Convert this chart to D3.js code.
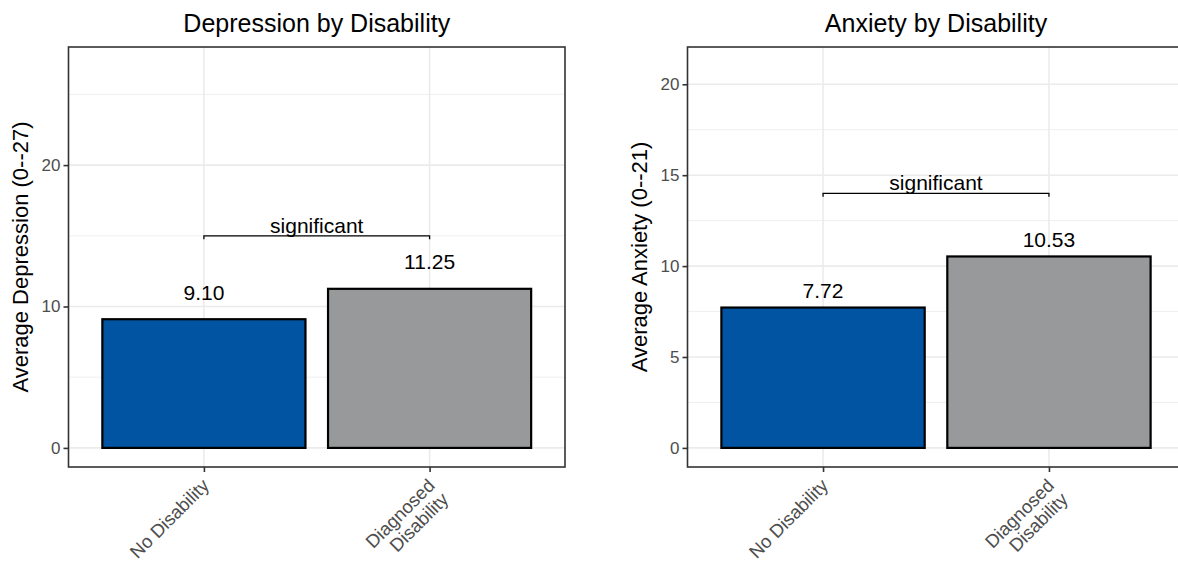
<!DOCTYPE html>
<html>
<head>
<meta charset="utf-8">
<script src="https://cdn.jsdelivr.net/npm/d3@7"></script>
<style>
  html, body { margin: 0; padding: 0; background: #fff; }
  svg { display: block; font-family: "Liberation Sans", Arial, sans-serif; }
</style>
</head>
<body>
<svg id="chart" width="1178" height="561"></svg>
<script>
// ---------- data ----------
const categories = ["No Disability", "Diagnosed\nDisability"];
const depressionValues = [9.10, 11.25];
const anxietyValues = [7.72, 10.53];
const depressionLimits = [0, 27];
const anxietyLimits = [0, 21];
const depressionTicks = [0, 10, 20];
const depressionMinorTicks = [5, 15, 25];
const anxietyTicks = [0, 5, 10, 15, 20];
const anxietyMinorTicks = [2.5, 7.5, 12.5, 17.5];
const depressionSignif = 15;
const anxietySignif = 14;
const signifLabel = "significant";
const titles = ["Depression by Disability", "Anxiety by Disability"];
const yTitles = ["Average Depression (0--27)", "Average Anxiety (0--21)"];

// ---------- style ----------
const barColors = ["#0054a2", "#98999b"];
const svg = d3.select("#chart");
const panelTop = 47, panelBottom = 467;

const panels = [
  { x0: 68.5, x1: 565, values: depressionValues, limits: depressionLimits,
    ticks: depressionTicks, minor: depressionMinorTicks, signif: depressionSignif,
    title: titles[0], yTitle: yTitles[0], yTitleX: 28, labelOffset: 19.5, fmt: d3.format(".2f") },
  { x0: 687.5, x1: 1184.5, values: anxietyValues, limits: anxietyLimits,
    ticks: anxietyTicks, minor: anxietyMinorTicks, signif: anxietySignif,
    title: titles[1], yTitle: yTitles[1], yTitleX: 647, labelOffset: 9.8, fmt: d3.format(".2f") }
];

panels.forEach(p => {
  const span = p.limits[1] - p.limits[0];
  const y = d3.scaleLinear()
    .domain([p.limits[0] - 0.05 * span, p.limits[1] + 0.05 * span])
    .range([panelBottom, panelTop]);
  const x = d3.scalePoint().domain(categories).range([p.x0, p.x1]).padding(0.6);
  const bw = x.step() * 0.9;

  const g = svg.append("g");
  const clipId = "clip" + Math.round(p.x0);
  svg.append("clipPath").attr("id", clipId).append("rect")
    .attr("x", p.x0).attr("y", panelTop).attr("width", p.x1 - p.x0).attr("height", panelBottom - panelTop);
  const pg = g.append("g").attr("clip-path", `url(#${clipId})`);

  // minor grid
  pg.selectAll(".minor").data(p.minor).enter().append("line")
    .attr("x1", p.x0).attr("x2", p.x1)
    .attr("y1", d => y(d)).attr("y2", d => y(d))
    .attr("stroke", "#ebebeb").attr("stroke-width", 0.8);
  // major grid
  pg.selectAll(".major").data(p.ticks).enter().append("line")
    .attr("x1", p.x0).attr("x2", p.x1)
    .attr("y1", d => y(d)).attr("y2", d => y(d))
    .attr("stroke", "#ebebeb").attr("stroke-width", 1.6);
  pg.selectAll(".vmajor").data(categories).enter().append("line")
    .attr("x1", d => x(d)).attr("x2", d => x(d))
    .attr("y1", panelTop).attr("y2", panelBottom)
    .attr("stroke", "#ebebeb").attr("stroke-width", 1.6);

  // bars
  pg.selectAll(".bar").data(p.values).enter().append("rect")
    .attr("x", (d, i) => x(categories[i]) - bw / 2)
    .attr("width", bw)
    .attr("y", d => y(d))
    .attr("height", d => y(0) - y(d))
    .attr("fill", (d, i) => barColors[i])
    .attr("stroke", "#000").attr("stroke-width", 2.2);

  // value labels
  pg.selectAll(".vlab").data(p.values).enter().append("text")
    .attr("x", (d, i) => x(categories[i]))
    .attr("y", d => y(d) - p.labelOffset)
    .attr("text-anchor", "middle")
    .attr("font-size", 21).attr("fill", "#000")
    .text(d => p.fmt(d));

  // significance bracket
  const sy = y(p.signif);
  const xa = x(categories[0]), xb = x(categories[1]);
  pg.append("path")
    .attr("d", `M${xa},${sy + 3.5}V${sy}H${xb}V${sy + 3.5}`)
    .attr("fill", "none").attr("stroke", "#000").attr("stroke-width", 1.3);
  pg.append("text")
    .attr("x", (xa + xb) / 2).attr("y", sy - 3)
    .attr("text-anchor", "middle").attr("font-size", 21).attr("fill", "#000")
    .text(signifLabel);

  // panel border
  g.append("rect")
    .attr("x", p.x0).attr("y", panelTop)
    .attr("width", p.x1 - p.x0).attr("height", panelBottom - panelTop)
    .attr("fill", "none").attr("stroke", "#333333").attr("stroke-width", 1.6);

  // y axis
  const ya = g.append("g").attr("transform", `translate(${p.x0},0)`)
    .call(d3.axisLeft(y).tickValues(p.ticks).tickSize(5).tickPadding(3).tickFormat(d3.format("d")));
  ya.select(".domain").remove();
  ya.selectAll(".tick line").attr("stroke", "#333333").attr("stroke-width", 1.6);
  ya.selectAll(".tick text").attr("fill", "#4d4d4d").attr("font-size", 17)
    .attr("font-family", "Liberation Sans, Arial, sans-serif");

  // x axis
  const xaG = g.append("g").attr("transform", `translate(0,${panelBottom})`)
    .call(d3.axisBottom(x).tickSize(5).tickPadding(3));
  xaG.select(".domain").remove();
  xaG.selectAll(".tick line").attr("stroke", "#333333").attr("stroke-width", 1.6);
  xaG.selectAll(".tick text").each(function(d) {
    const t = d3.select(this);
    const lines = d.split("\n");
    t.text(null)
      .attr("fill", "#4d4d4d").attr("font-size", 18.5)
      .attr("font-family", "Liberation Sans, Arial, sans-serif")
      .attr("text-anchor", "end")
      .attr("y", 0).attr("dy", null)
      .attr("transform", "translate(-4,10) rotate(-45)");
    lines.forEach((ln, i) => {
      t.append("tspan").attr("x", 0).attr("dy", i === 0 ? "0.75em" : "1.05em").text(ln);
    });
  });

  // y title
  g.append("text")
    .attr("transform", `translate(${p.yTitleX},${(panelTop + panelBottom) / 2}) rotate(-90)`)
    .attr("text-anchor", "middle").attr("font-size", 22).attr("fill", "#000")
    .text(p.yTitle);

  // plot title
  g.append("text")
    .attr("x", (p.x0 + p.x1) / 2).attr("y", 32)
    .attr("text-anchor", "middle").attr("font-size", 25).attr("fill", "#000")
    .text(p.title);
});
</script>
</body>
</html>
